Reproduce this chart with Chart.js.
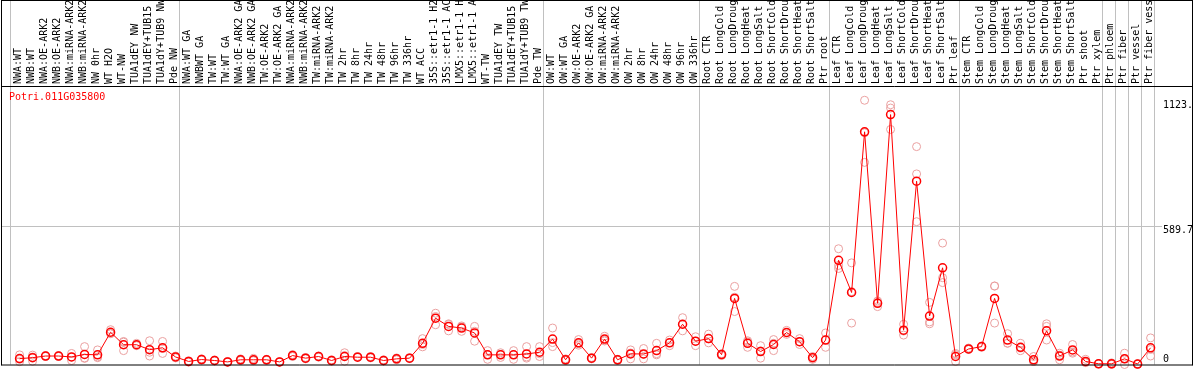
<!DOCTYPE html>
<html>
<head>
<meta charset="utf-8">
<script src="https://cdn.jsdelivr.net/npm/chart.js@4/dist/chart.umd.min.js"></script>
<style>
  html, body { margin: 0; padding: 0; background: #fff; }
</style>
</head>
<body>
<canvas id="efpChart" width="1194" height="370"></canvas>
<script>
// gene shown in the plot
const geneId = 'Potri.011G035800';

// sample names, left to right
const sampleLabels = [
    'NWA:WT', 'NWB:WT', 'NWA:OE-ARK2', 'NWB:OE-ARK2', 'NWA:miRNA-ARK2', 'NWB:miRNA-ARK2',
    'NW 0hr', 'WT H2O', 'WT-NW', 'TUA1dEY NW', 'TUA1dEY+TUB15', 'TUA1dY+TUB9 NW', 'Pde NW',
    'NWA:WT GA', 'NWBWT GA', 'TW:WT', 'TW:WT GA', 'NWA:OE-ARK2 GA', 'NWB:OE-ARK2 GA',
    'TW:OE-ARK2', 'TW:OE-ARK2 GA', 'NWA:miRNA-ARK2', 'NWB:miRNA-ARK2', 'TW:miRNA-ARK2',
    'TW:miRNA-ARK2', 'TW 2hr', 'TW 8hr', 'TW 24hr', 'TW 48hr', 'TW 96hr', 'TW 336hr',
    'WT ACC', '35S::etr1-1 H2', '35S::etr1-1 AC', 'LMX5::etr1-1 H', 'LMX5::etr1-1 A',
    'WT-TW', 'TUA1dEY TW', 'TUA1dEY+TUB15', 'TUA1dY+TUB9 TW', 'Pde TW',
    'OW:WT', 'OW:WT GA', 'OW:OE-ARK2', 'OW:OE-ARK2 GA', 'OW:miRNA-ARK2', 'OW:miRNA-ARK2',
    'OW 2hr', 'OW 8hr', 'OW 24hr', 'OW 48hr', 'OW 96hr', 'OW 336hr',
    'Root CTR', 'Root LongCold', 'Root LongDroug', 'Root LongHeat', 'Root LongSalt',
    'Root ShortCold', 'Root ShortDrou', 'Root ShortHeat', 'Root ShortSalt', 'Ptr root',
    'Leaf CTR', 'Leaf LongCold', 'Leaf LongDroug', 'Leaf LongHeat', 'Leaf LongSalt',
    'Leaf ShortCold', 'Leaf ShortDrou', 'Leaf ShortHeat', 'Leaf ShortSalt', 'Ptr leaf',
    'Stem CTR', 'Stem LongCold', 'Stem LongDroug', 'Stem LongHeat', 'Stem LongSalt',
    'Stem ShortCold', 'Stem ShortDrou', 'Stem ShortHeat', 'Stem ShortSalt', 'Ptr shoot',
    'Ptr xylem', 'Ptr phloem', 'Ptr fiber', 'Ptr vessel', 'Ptr fiber vessel'
];

// mean expression per sample
const meanValues = [
    25, 29, 36, 36, 32, 43, 41, 137, 84, 84, 63, 71, 32,
    13, 21, 17, 11, 20, 20, 20, 11, 38, 27, 34, 17, 34, 31, 31, 17, 24, 27,
    90, 197, 162, 155, 134, 41, 41, 41, 45, 52, 108,
    20, 92, 27, 108, 20, 45, 45, 59, 92, 171, 99, 110,
    42, 281, 90, 55, 85, 136, 97, 29, 104, 443,
    306, 989, 260, 1062, 146, 779, 206, 411, 34, 66,
    76, 281, 104, 73, 20, 143, 36, 62, 13, 3, 3, 24, 2, 71
];

// individual replicates
const rep1 = [
    41, 32, 38, 36, 47, 76, 62, 148, 95, 80, 101, 98, 36,
    10, 20, 15, 10, 24, 26, 22, 12, 42, 30, 36, 20, 50, 34, 34, 20, 28, 29,
    110, 218, 173, 141, 162, 59, 50, 59, 76, 76, 155,
    24, 106, 30, 120, 22, 62, 68, 90, 104, 199, 118, 129,
    46, 332, 101, 80, 106, 145, 110, 34, 134, 492,
    432, 1123, 246, 1104, 125, 926, 264, 516, 13, 64,
    73, 334, 131, 90, 34, 173, 20, 85, 22, 2, 7, 48, 3, 113
];
const rep2 = [
    22, 14, 34, 34, 17, 26, 29, 131, 59, 90, 36, 47, 28,
    16, 24, 19, 13, 17, 16, 18, 10, 34, 24, 31, 14, 14, 32, 28, 15, 20, 25,
    85, 169, 143, 160, 99, 22, 30, 22, 27, 34, 76,
    17, 88, 24, 100, 18, 24, 24, 41, 80, 143, 80, 92,
    38, 225, 73, 27, 59, 128, 85, 22, 73, 421,
    176, 859, 264, 1090, 171, 810, 173, 369, 47, 70,
    78, 176, 90, 59, 13, 162, 48, 48, 8, 4, 1, 0, 1, 36
];
const rep3 = [
    12, 40, 36, 38, 32, 28, 32, 132, 98, 82, 52, 68, 32,
    13, 19, 17, 11, 19, 18, 20, 11, 38, 27, 35, 17, 38, 34, 31, 16, 24, 27,
    75, 204, 170, 164, 141, 42, 43, 42, 32, 46, 93,
    19, 82, 27, 104, 20, 49, 43, 46, 92, 171, 99, 109,
    42, 286, 96, 58, 90, 135, 96, 31, 105, 408,
    310, 985, 270, 999, 142, 607, 181, 348, 42, 64,
    75, 333, 91, 70, 13, 104, 40, 53, 9, 3, 1, 24, 2, 64
];

// sample count at the end of each tissue block
const groupEnds = [13, 41, 53, 63, 73, 84, 85, 86, 87, 88];

const yMax = 1179.4;
const yTickValues = [0, 589.7, 1123.2];
const yTickLabels = ['0', '589.7', '1123.'];

const monoFont = "'DejaVu Sans Mono', monospace";

// frame, block separators and all the text
const efpPlugin = {
    id: 'efpFrame',
    beforeDatasetsDraw(chart) {
        const { ctx, chartArea, scales } = chart;
        const x = scales.x;
        const y = scales.y;
        ctx.save();
        ctx.strokeStyle = '#c0c0c0';
        ctx.lineWidth = 1;
        // vertical block lines run through the label band too
        [0, ...groupEnds].forEach(k => {
            const px = Math.round(x.getPixelForValue(k + x.min)) - 0.5;
            ctx.beginPath();
            ctx.moveTo(px, 0);
            ctx.lineTo(px, chartArea.bottom);
            ctx.stroke();
        });
        // middle gridline
        const gy = Math.round(y.getPixelForValue(yTickValues[1])) + 0.5;
        ctx.beginPath();
        ctx.moveTo(2, gy);
        ctx.lineTo(chartArea.right + 7, gy);
        ctx.stroke();

        // sample names, rotated, reading upwards from just above the band line
        ctx.font = '10px ' + monoFont;
        ctx.fillStyle = '#000';
        ctx.textAlign = 'left';
        ctx.textBaseline = 'middle';
        x.ticks.forEach((t, i) => {
            ctx.save();
            ctx.translate(x.getPixelForValue(t.value) - 1, 84);
            ctx.rotate(-Math.PI / 2);
            ctx.fillText(sampleLabels[i], 0, 0);
            ctx.restore();
        });
        ctx.restore();
    },
    afterDraw(chart) {
        const { ctx, chartArea, scales, width } = chart;
        const y = scales.y;
        ctx.save();
        ctx.strokeStyle = '#000';
        ctx.lineWidth = 1;
        ctx.beginPath();
        ctx.moveTo(1.5, 0.5); ctx.lineTo(width - 1.5, 0.5);
        ctx.moveTo(1.5, 86.5); ctx.lineTo(width - 1.5, 86.5);
        ctx.moveTo(1.5, chartArea.bottom + 0.5); ctx.lineTo(width - 1.5, chartArea.bottom + 0.5);
        ctx.moveTo(1.5, 0); ctx.lineTo(1.5, chartArea.bottom + 1);
        ctx.moveTo(width - 1.5, 0); ctx.lineTo(width - 1.5, chartArea.bottom + 1);
        ctx.stroke();

        ctx.font = '10px ' + monoFont;
        ctx.textBaseline = 'top';
        ctx.textAlign = 'left';
        ctx.fillStyle = '#ff0000';
        ctx.fillText(geneId, 9, 92);

        // value labels sit just under their level, the last one kept inside
        ctx.fillStyle = '#000';
        yTickValues.forEach((v, i) => {
            const py = Math.min(y.getPixelForValue(v), chartArea.bottom - 10);
            ctx.fillText(yTickLabels[i], chartArea.right + 8, py);
        });
        ctx.restore();
    }
};

const toPoints = arr => arr.map((v, i) => ({ x: i, y: v }));
const repStyle = {
    type: 'line',
    showLine: false,
    pointRadius: 4,
    pointBorderWidth: 1,
    pointBorderColor: '#eaa0a0',
    pointBackgroundColor: 'rgba(0,0,0,0)',
    borderColor: '#eaa0a0',
    clip: false,
    order: 2
};

const ctx = document.getElementById('efpChart').getContext('2d');
new Chart(ctx, {
    type: 'line',
    data: {
        datasets: [
            {
                data: toPoints(meanValues),
                borderColor: '#ff0000',
                borderWidth: 1,
                tension: 0,
                pointRadius: 4,
                pointBorderWidth: 1.5,
                pointBorderColor: '#ff0000',
                pointBackgroundColor: 'rgba(0,0,0,0)',
                clip: false,
                order: 0
            },
            Object.assign({ data: toPoints(rep1) }, repStyle),
            Object.assign({ data: toPoints(rep2) }, repStyle),
            Object.assign({ data: toPoints(rep3) }, repStyle)
        ]
    },
    options: {
        responsive: false,
        animation: false,
        layout: { padding: { left: 11, right: 1, top: 0, bottom: 2 } },
        plugins: {
            legend: { display: false },
            tooltip: { enabled: false }
        },
        scales: {
            x: {
                type: 'linear',
                position: 'top',
                min: -0.66,
                max: sampleLabels.length - 0.66,
                afterBuildTicks: scale => {
                    scale.ticks = sampleLabels.map((l, i) => ({ value: i }));
                },
                afterFit: scale => { scale.height = 87; },
                grid: { display: false },
                border: { display: false },
                ticks: { display: false }
            },
            y: {
                position: 'right',
                min: 0,
                max: yMax,
                afterFit: scale => { scale.width = 38; },
                grid: { display: false },
                border: { display: false },
                ticks: { display: false }
            }
        }
    },
    plugins: [efpPlugin]
});
</script>
</body>
</html>
